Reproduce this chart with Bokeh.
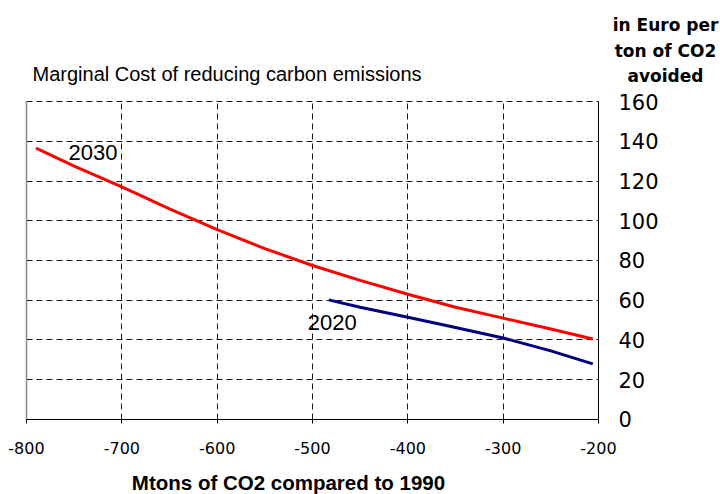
from bokeh.plotting import figure
from bokeh.models import Range1d, FixedTicker, Label, LinearAxis, Grid
from bokeh.embed import file_html
from bokeh.resources import INLINE

x_2030 = [-790, -750, -700, -650, -600, -550, -500, -450, -400, -350, -300, -250, -206]
y_2030 = [136.5, 127.5, 117, 106, 95.5, 86, 77.5, 70, 63, 56.5, 51, 45.5, 40.5]
x_2020 = [-483, -450, -400, -350, -300, -250, -206]
y_2020 = [60.2, 56.5, 51.4, 46.3, 41, 34.5, 28]
x_ticks = [-800, -700, -600, -500, -400, -300, -200]
y_ticks = [0, 20, 40, 60, 80, 100, 120, 140, 160]
x_lo, x_hi = -800, -200
y_lo, y_hi = 0, 160

ARIAL = "Liberation Sans"
WIDE = "DejaVu Sans"

# The frame fills the whole canvas so that texts outside the plotted box are not clipped;
# the visible extents map -800..-200 to x=26..598 px and 0..160 to y=419..101 px.
p = figure(width=720, height=494, output_backend="svg", toolbar_location=None,
           x_range=Range1d(-827.27, -72.03), y_range=Range1d(-37.74, 210.82),
           x_axis_type=None, y_axis_type=None, min_border=0)
p.outline_line_color = None
p.background_fill_color = "white"
p.grid.visible = False

xax = LinearAxis(fixed_location=y_lo, bounds=(x_lo, x_hi), ticker=FixedTicker(ticks=x_ticks))
xax.major_label_overrides = {t: str(t) for t in x_ticks}
xax.major_label_text_font_size = "16px"
xax.major_tick_out = 4
xax.major_label_standoff = 19
yax = LinearAxis(fixed_location=x_hi, bounds=(y_lo, y_hi), ticker=FixedTicker(ticks=y_ticks))
yax.major_label_text_font_size = "21px"
yax.major_tick_out = 0
yax.major_label_standoff = 20
for ax in (xax, yax):
    ax.major_label_text_font = WIDE
    ax.major_label_text_color = "black"
    ax.axis_line_color = "black"
    ax.major_tick_line_color = "black"
    ax.minor_tick_line_color = None
    ax.major_tick_in = 0
p.add_layout(xax, "below")
p.add_layout(yax, "right")

xg = Grid(dimension=0, ticker=FixedTicker(ticks=x_ticks[1:-1]), cross_bounds=(y_lo, y_hi))
yg = Grid(dimension=1, ticker=FixedTicker(ticks=y_ticks[1:]), cross_bounds=(x_lo, x_hi))
for g in (xg, yg):
    g.grid_line_color = "black"
    g.grid_line_dash = "6 4"
    g.grid_line_width = 1
    g.grid_line_alpha = 0.9
left_edge = Grid(dimension=0, ticker=FixedTicker(ticks=[x_lo]), cross_bounds=(y_lo, y_hi),
                 grid_line_color="#888888", grid_line_width=1.5)
p.add_layout(xg)
p.add_layout(yg)
p.add_layout(left_edge)

p.line(x_2030, y_2030, line_color="#FF0000", line_width=3)
p.line(x_2020, y_2020, line_color="#000080", line_width=3)

p.add_layout(Label(x=-756, y=134.3, text="2030", text_font=ARIAL, text_font_size="22px",
                   text_baseline="middle", text_align="left", text_color="black"))
p.add_layout(Label(x=-505, y=48.9, text="2020", text_font=ARIAL, text_font_size="22px",
                   text_baseline="middle", text_align="left", text_color="black"))

p.add_layout(Label(x=-793.7, y=173.6, text="Marginal Cost of reducing carbon emissions",
                   text_font=ARIAL, text_font_size="20px", text_baseline="middle",
                   text_align="left", text_color="black"))
for yy, t in [(198.7, "in Euro per"), (185.2, "ton of CO2"), (172.6, "avoided")]:
    p.add_layout(Label(x=-129.7, y=yy, text=t, text_font=WIDE, text_font_size="17px",
                       text_font_style="bold", text_baseline="middle", text_align="center",
                       text_color="black"))
p.add_layout(Label(x=-525.2, y=-31.7, text="Mtons of CO2 compared to 1990", text_font=ARIAL,
                   text_font_size="20.5px", text_font_style="bold", text_baseline="middle",
                   text_align="center", text_color="black"))

open("out.html", "w").write(file_html(p, INLINE))
